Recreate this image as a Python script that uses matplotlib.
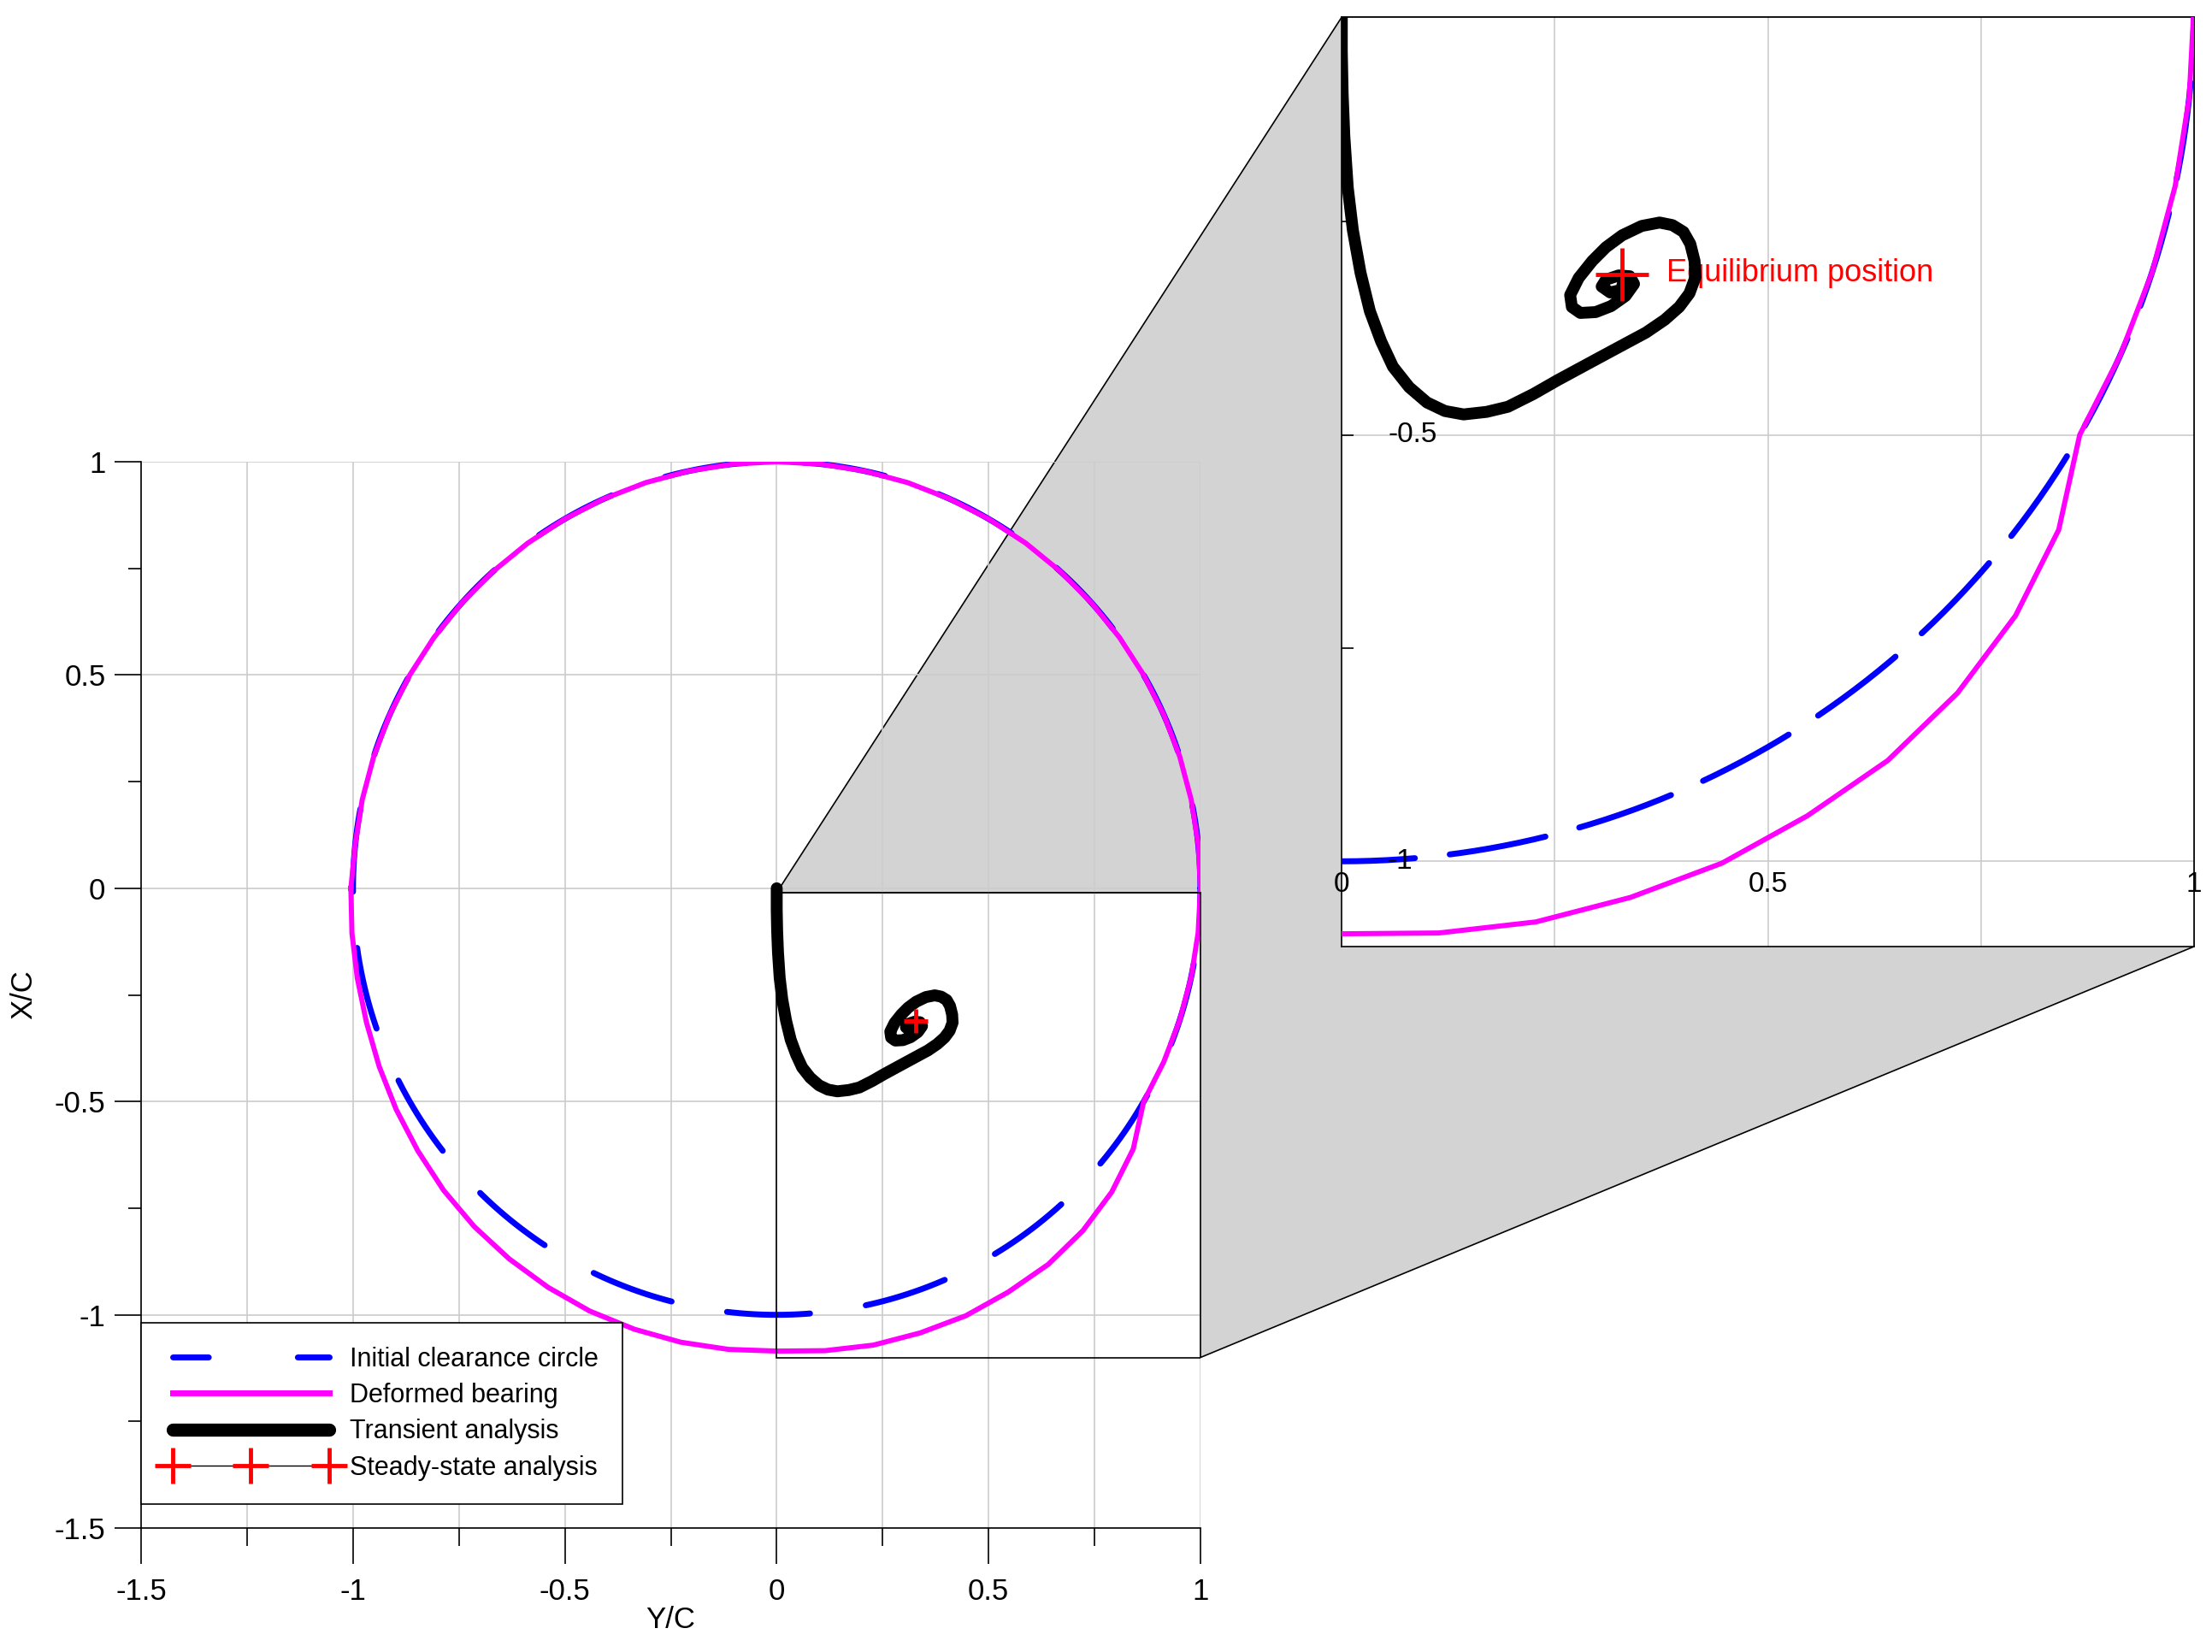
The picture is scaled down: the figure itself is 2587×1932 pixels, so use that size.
import numpy as np
import matplotlib.pyplot as plt
from matplotlib.lines import Line2D
from matplotlib.patches import Polygon, Rectangle

plt.rcParams['font.family'] = ['Liberation Sans', 'DejaVu Sans']

# deformed bearing: polar samples (angle in degrees, radius / C)
bearing_angle = list(range(-180, 181, 6))
bearing_radius = [1.005, 1.008, 1.012, 1.018, 1.027, 1.037, 1.047, 1.058, 1.067, 1.074,
                  1.080, 1.085, 1.087, 1.088, 1.087, 1.085, 1.090, 1.095, 1.096, 1.097,
                  1.093, 1.090, 1.080, 1.064, 1.040, 1.000, 1.000, 1.000, 1.000, 1.000,
                  1.000] + [1.0] * 29 + [1.005]

# transient journal centre orbit (Y/C, X/C)
orbit_y = [0.0, 0.0, 0.001, 0.003, 0.007, 0.013, 0.022, 0.033, 0.046, 0.060, 0.079,
           0.100, 0.121, 0.143, 0.170, 0.195, 0.225, 0.253, 0.290, 0.329, 0.357, 0.379,
           0.396, 0.408, 0.415, 0.414, 0.409, 0.401, 0.388, 0.373, 0.352, 0.329, 0.310,
           0.294, 0.278, 0.268, 0.270, 0.280, 0.298, 0.316, 0.333, 0.343, 0.338, 0.325,
           0.310, 0.305, 0.315, 0.328, 0.330]
orbit_x = [0.0, -0.05, -0.10, -0.15, -0.21, -0.26, -0.31, -0.355, -0.39, -0.42, -0.444,
           -0.462, -0.472, -0.476, -0.473, -0.467, -0.452, -0.436, -0.416, -0.395, -0.38,
           -0.365, -0.35, -0.334, -0.315, -0.296, -0.276, -0.262, -0.254, -0.251, -0.255,
           -0.266, -0.28, -0.296, -0.316, -0.336, -0.35, -0.357, -0.356, -0.349, -0.337,
           -0.323, -0.314, -0.313, -0.318, -0.326, -0.333, -0.33, -0.322]

# steady-state equilibrium
eq_y = [0.329]
eq_x = [-0.312]

zoom_box = (0.0, 1.0, -1.10, -0.01)  # ymin, ymax, xmin, xmax of the zoom window

th = np.radians(np.arange(0, 361, 1))
circ_y, circ_x = np.cos(th), np.sin(th)
ba = np.radians(bearing_angle)
bear_y = np.array(bearing_radius) * np.cos(ba)
bear_x = np.array(bearing_radius) * np.sin(ba)

fig = plt.figure(figsize=(25.87, 19.32), dpi=100)
ax = fig.add_axes([0.0638, 0.075, 0.4789, 0.6455])
axz = fig.add_axes([0.6066, 0.427, 0.3852, 0.5627])
ax.patch.set_alpha(0)

def draw(a, dashes, msize):
    a.plot(circ_y, circ_x, color='blue', lw=5, dashes=dashes, solid_capstyle='round',
           dash_capstyle='round', zorder=3)
    a.plot(bear_y, bear_x, color='magenta', lw=4.3, zorder=4)
    a.plot(orbit_y, orbit_x, color='black', lw=10, solid_joinstyle='round',
           solid_capstyle='round', zorder=5)
    a.plot(eq_y, eq_x, ls='none', marker='+', ms=msize, mew=3.5, color='red', zorder=6)
    a.grid(True, color='#cccccc', lw=1.2)
    a.set_axisbelow(True)

draw(ax, (14, 9.5), 20)
draw(axz, (16.4, 5.9), 45)

# main axes
ax.set_xlim(-1.5, 1.0)
ax.set_ylim(-1.5, 1.0)
ax.set_xticks(np.arange(-1.5, 1.01, 0.5))
ax.set_xticks(np.arange(-1.5, 1.01, 0.25), minor=True)
ax.set_yticks(np.arange(-1.5, 1.01, 0.5))
ax.set_yticks(np.arange(-1.5, 1.01, 0.25), minor=True)
ax.set_xticklabels(['-1.5', '-1', '-0.5', '0', '0.5', '1'])
ax.set_yticklabels(['-1.5', '-1', '-0.5', '0', '0.5', '1'])
ax.xaxis.grid(True, which='minor', color='#cccccc', lw=1.2)
ax.tick_params(axis='x', which='major', length=30, width=1.2, labelsize=25, pad=12)
ax.tick_params(axis='x', which='minor', length=15, width=1.2)
ax.tick_params(axis='y', which='major', length=22, width=1.2, labelsize=25, pad=8)
ax.tick_params(axis='y', which='minor', length=11, width=1.2)
for s in ['top', 'right']:
    ax.spines[s].set_visible(False)
for s in ['left', 'bottom']:
    ax.spines[s].set_linewidth(1.2)
ax.set_xlabel('Y/C', fontsize=25, labelpad=0)
ax.set_ylabel('X/C', fontsize=25, labelpad=14)

x0, x1, y0, y1 = zoom_box
ax.add_patch(Rectangle((x0, y0), x1 - x0, y1 - y0, fill=False, ec='black', lw=1.2, zorder=7))

leg_handles = [
    Line2D([], [], color='blue', lw=5, dashes=(6, 15), dash_capstyle='round'),
    Line2D([], [], color='magenta', lw=5),
    Line2D([], [], color='black', lw=11, solid_capstyle='round'),
    Line2D([], [], color='black', lw=1, marker='+', ms=30, mew=3.5, mec='red'),
]
leg = ax.legend(leg_handles, ['Initial clearance circle', 'Deformed bearing',
                              'Transient analysis', 'Steady-state analysis'],
                loc='lower left', bbox_to_anchor=(0.0, 0.0225), borderaxespad=0,
                fontsize=22, handlelength=6.6, numpoints=3, fancybox=False,
                framealpha=1, edgecolor='black', borderpad=0.9, labelspacing=0.4,
                handletextpad=0.5)
leg.get_frame().set_linewidth(1.2)
leg.set_zorder(10)

# zoom axes
axz.set_xlim(x0, x1)
axz.set_ylim(y0, y1)
axz.set_xticks([0.25, 0.5, 0.75])
axz.set_yticks([-1.0, -0.5])
axz.set_yticks([-0.75, -0.25], minor=True)
axz.tick_params(which='both', direction='in', labelleft=False, labelbottom=False,
                length=10, width=1.2)
axz.tick_params(axis='x', which='major', length=0)
for s in axz.spines.values():
    s.set_linewidth(1.2)
lab = dict(fontsize=24, ha='center', va='center')
axz.text(0.083, -0.5, '-0.5', **lab)
axz.text(0.068, -1.0, '-1', **lab)
axz.text(0.0, -1.027, '0', **lab)
axz.text(0.5, -1.027, '0.5', **lab)
axz.text(1.0, -1.027, '1', **lab)
axz.text(0.381, -0.31, 'Equilibrium position', color='red', fontsize=26, ha='left', va='center')

# grey connector between zoom window and zoom axes
def to_fig(a, x, y):
    return fig.transFigure.inverted().transform(a.transData.transform((x, y)))

fig.canvas.draw()
pts = [to_fig(ax, x0, y1), to_fig(axz, x0, y1), to_fig(axz, x1, y1), to_fig(axz, x1, y0),
       to_fig(ax, x1, y0), to_fig(ax, x1, y1)]
fig.patches.append(Polygon(pts, closed=True, transform=fig.transFigure, fc='#d3d3d3',
                           ec='black', lw=1.2, zorder=-1))

fig.savefig('out.png', dpi=100, facecolor='white')
